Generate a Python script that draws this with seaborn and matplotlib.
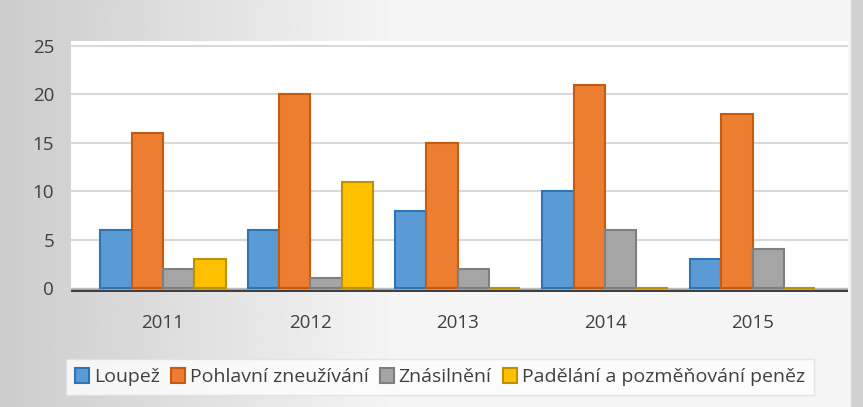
import numpy as np
import pandas as pd
import matplotlib
matplotlib.use("Agg")
import matplotlib.pyplot as plt
import seaborn as sns
from matplotlib.patches import Rectangle

years = ["2011", "2012", "2013", "2014", "2015"]
series_names = ["Loupež", "Pohlavní zneužívání", "Znásilnění", "Padělání a pozměňování peněz"]
loupez = [6, 6, 8, 10, 3]
pohlavni = [16, 20, 15, 21, 18]
znasilneni = [2, 1, 2, 6, 4]
padelani = [3, 11, 0, 0, 0]
y_ticks = [0, 5, 10, 15, 20, 25]

colors = ["#5B9BD5", "#ED7D31", "#A5A5A5", "#FFC000"]
edges = ["#2E75B6", "#C55A11", "#7F7F7F", "#BF9000"]

df = pd.DataFrame({
    "rok": years * 4,
    "serie": np.repeat(series_names, len(years)),
    "pocet": loupez + pohlavni + znasilneni + padelani,
})

sns.set_theme(style="white")
plt.rcParams["font.family"] = ["Open Sans", "DejaVu Sans"]

fig = plt.figure(figsize=(8.63, 4.07), dpi=100)

# grey gradient background (darker at the left, light in the middle, grey strip at the right)
bg = fig.add_axes([0, 0, 1, 1], zorder=-10)
xs = np.linspace(0, 1, 400)
shade = np.clip(0.80 + xs * 0.35, 0, 0.96)
shade[xs > 0.985] = 0.82
bg.imshow(np.vstack([shade, shade]), aspect="auto", cmap="gray", vmin=0, vmax=1,
          extent=[0, 1, 0, 1])
bg.set_axis_off()

ax = fig.add_axes([0.082, 0.2826, 0.901, 0.6164])
ax.set_facecolor("white")
sns.barplot(data=df, x="rok", y="pocet", hue="serie", palette=colors,
            width=0.85, saturation=1, ax=ax, legend=True, zorder=3)

for cont, ec in zip(ax.containers, edges):
    for bar in cont:
        bar.set_edgecolor(ec)
        bar.set_linewidth(1.5)

ax.set_xlim(-0.625, 4.65)
ax.set_ylim(-0.4, 25.5)
ax.set_yticks(y_ticks)
ax.set_yticklabels([str(t) for t in y_ticks])
for v in y_ticks[1:]:
    ax.axhline(v, color="#d9d9d9", lw=1.5, zorder=1)
ax.axhspan(-0.4, 0, color="#bfbfbf", zorder=2)
ax.axhline(-0.35, color="#404040", lw=2.5, zorder=2)

for s in ax.spines.values():
    s.set_visible(False)
ax.tick_params(axis="y", length=0, labelsize=13.5, labelcolor="#404040", pad=12)
ax.tick_params(axis="x", length=0, labelsize=13.5, labelcolor="#404040", pad=16)
ax.set_xlabel("")
ax.set_ylabel("")

ax.get_legend().remove()
handles = [Rectangle((0, 0), 1, 1, facecolor=c, edgecolor=e, lw=1.5) for c, e in zip(colors, edges)]
leg = fig.legend(handles, series_names, loc="center", bbox_to_anchor=(0.51, 0.074),
                 ncol=4, frameon=True, fontsize=14, handlelength=0.7, handleheight=0.8,
                 handletextpad=0.25, columnspacing=0.6, borderpad=0.45, fancybox=False)
leg.get_frame().set_facecolor("white")
leg.get_frame().set_edgecolor("#e0e0e0")
for t in leg.get_texts():
    t.set_color("#404040")

fig.savefig("out.png", dpi=100)
